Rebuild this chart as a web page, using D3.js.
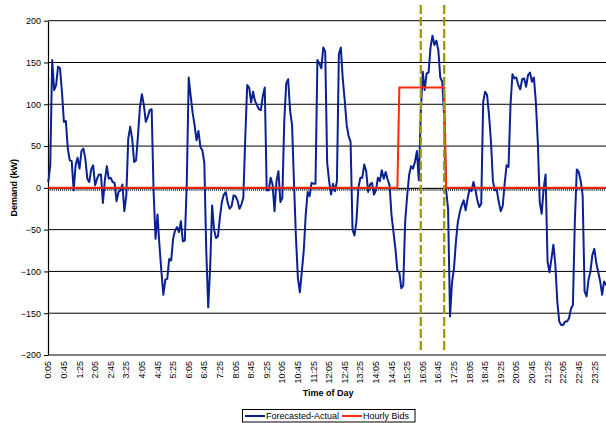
<!DOCTYPE html>
<html>
<head>
<meta charset="utf-8">
<script src="https://cdn.jsdelivr.net/npm/d3@7/dist/d3.min.js"></script>
<style>
  body { margin: 0; background: #fff; }
  svg { display: block; font-family: Arial, "Liberation Sans", sans-serif; }
</style>
</head>
<body>
<div id="chart"></div>
<script>
// 5-minute intervals, 0:05 .. 24:00
const times = d3.range(1, 289).map((k) => {
  const m = (k * 5) % 1440;
  return `${Math.floor(m / 60)}:${String(m % 60).padStart(2, "0")}`;
});

const xTickLabels = ["0:05","0:45","1:25","2:05","2:45","3:25","4:05","4:45","5:25","6:05","6:45","7:25",
  "8:05","8:45","9:25","10:05","10:45","11:25","12:05","12:45","13:25","14:05","14:45","15:25",
  "16:05","16:45","17:25","18:05","18:45","19:25","20:05","20:45","21:25","22:05","22:45","23:25"];

const yTicks = [-200, -150, -100, -50, 0, 50, 100, 150, 200];

// Forecasted - Actual demand (kW), one value per 5 minutes
const forecastedActual = [
  7, 27, 153, 117, 123, 145, 143, 115, 79, 80, 47, 33, 32, -3,
  27, 36, 23, 44, 47, 35, 11, 7, 22, 27, 3, 11, 16, 16,
  -18, 9, 26, 11, 12, 7, 6, -16, -5, -3, 4, -28, -9,
  59, 73, 59, 31, 33, 63, 97, 112, 99, 79, 85, 93, 94,
  -5, -61, -32, -69, -100, -128, -110, -109, -85, -87, -61, -51, -47, -53, -40, -64, -63,
  5, 132, 110, 90, 75, 57, 68, 49, 45, 30, -75, -143,
  -95, -21, -50, -60, -58, -35, -17, -8, -5, -18, -25, -22, -9, -10, -15, -25, -20, -12,
  60, 123, 120, 102, 115, 104, 99, 94, 93, 110, 120,
  -3, -3, 12, 4, -28, 8, 20, -17, -12, 80, 125, 130, 92, 75,
  5, -60, -108, -125, -100, -75, -32, -5, -10, 6, 5, 5, 153, 149, 143, 168,
  163, 30, 8, -8, 5, -4, 8, 160, 168, 130, 105, 75, 62, 55,
  -50, -57, -40, 0, 12, 12, 28, 20, -5, 4, 6, -8, -3, 12, 8, 21, 11, 19, 10, 3,
  -33, -53, -73, -99, -101, -120, -117, -40, -10, 15, 26, 23, 31, 44, 9,
  90, 139, 117, 137, 138, 168, 182, 171, 176, 165, 132, 127, 85, -3, -25,
  -154, -113, -97, -65, -41, -29, -21, -15, -27, -13, -1,
  -4, 7, -2, -15, -23, -19, 103, 115, 111, 87, 55, 8, -3, -3, -17, -28, -22, 5, 27, 25,
  99, 136, 131, 132, 123, 118, 130, 131, 121, 135, 138, 127, 132, 103, 55, -17, -31, -1, 16,
  -88, -101, -85, -68, -92, -136, -160, -164, -164, -160, -160, -156, -145, -140, -40,
  22, 19, 8, -9, -124, -130, -110, -100, -80, -73, -90, -101, -112, -128, -112, -116, -110
];

// Hourly bids (kW), hour 0..23
const hourlyBids = [0, 0, 0, 0, 0, 0, 0, 0, 0, 0, 0, 0, 0, 0, 0, 120, 120, 0, 0, 0, 0, 0, 0, 0];

// bid window boundaries
const markerTimes = ["16:00", "17:00"];

const width = 606, height = 423;
const plot = { left: 48.3, right: 608, top: 20.7, bottom: 355 };

const svg = d3.select("#chart")
  .append("svg")
  .attr("width", width)
  .attr("height", height);

const x = d3.scalePoint().domain(times).range([plot.left, plot.right]);
const y = d3.scaleLinear().domain([-200, 200]).range([plot.bottom, plot.top]);

const bids = times.map((t, i) => hourlyBids[Math.floor(i / 12)]);

// Gridlines
svg.append("g")
  .selectAll("line")
  .data(yTicks.filter((d) => d !== 0))
  .join("line")
  .attr("x1", plot.left)
  .attr("x2", width + 4)
  .attr("y1", (d) => y(d))
  .attr("y2", (d) => y(d))
  .attr("stroke", "#000")
  .attr("stroke-width", 1);

// Y axis
const yAxisG = svg.append("g")
  .attr("transform", "translate(48,0)")
  .call(d3.axisLeft(y).tickValues(yTicks).tickSize(4).tickPadding(3).tickSizeOuter(0));
yAxisG.attr("font-family", null).attr("font-size", null);
yAxisG.select(".domain").attr("stroke-width", 1.2);
yAxisG.selectAll(".tick text").style("font-size", "9px").attr("fill", "#000");

// X axis along zero, tick mark on every interval
const xAxisG = svg.append("g")
  .attr("transform", `translate(0,${y(0)})`)
  .call(d3.axisBottom(x).tickValues(times).tickSize(3).tickSizeOuter(0).tickFormat(""));
xAxisG.selectAll(".tick line").attr("stroke-width", 0.8);

// X tick labels, rotated, at the bottom
svg.append("g")
  .selectAll("text")
  .data(xTickLabels)
  .join("text")
  .attr("transform", (d) => `translate(${x(d)},361) rotate(-90)`)
  .attr("text-anchor", "end")
  .attr("dy", "0.35em")
  .style("font-size", "9px")
  .text((d) => d);

// Axis titles
svg.append("text")
  .attr("x", (plot.left + plot.right) / 2)
  .attr("y", 396)
  .attr("text-anchor", "middle")
  .style("font-size", "9px")
  .style("font-weight", "bold")
  .text("Time of Day");

svg.append("text")
  .attr("transform", `translate(17,${y(0)}) rotate(-90)`)
  .attr("text-anchor", "middle")
  .style("font-size", "9px")
  .style("font-weight", "bold")
  .text("Demand (kW)");

// Series
const line = d3.line()
  .x((d, i) => x(times[i]))
  .y((d) => y(d));

svg.append("path")
  .datum(forecastedActual)
  .attr("fill", "none")
  .attr("stroke", "#0a2191")
  .attr("stroke-width", 2)
  .attr("stroke-linejoin", "round")
  .attr("d", line);

svg.append("path")
  .datum(bids)
  .attr("fill", "none")
  .attr("stroke", "#ff2a0a")
  .attr("stroke-width", 2)
  .attr("d", line);

// Dashed markers for the bid hour
svg.append("g")
  .selectAll("line")
  .data(markerTimes)
  .join("line")
  .attr("x1", (d) => x(d))
  .attr("x2", (d) => x(d))
  .attr("y1", 5)
  .attr("y2", 352)
  .attr("stroke", "#9e9a00")
  .attr("stroke-width", 2.3)
  .attr("stroke-dasharray", "9,3");

// Legend
const legend = svg.append("g");
legend.append("rect")
  .attr("x", 242.5).attr("y", 409.5)
  .attr("width", 172.5).attr("height", 12.5)
  .attr("fill", "#fff").attr("stroke", "#000");
const legendItems = [
  { name: "Forecasted-Actual", color: "#0a2191", x: 245 },
  { name: "Hourly Bids", color: "#ff2a0a", x: 342 }
];
legendItems.forEach((d) => {
  legend.append("line")
    .attr("x1", d.x).attr("x2", d.x + 20)
    .attr("y1", 416).attr("y2", 416)
    .attr("stroke", d.color).attr("stroke-width", 2);
  legend.append("text")
    .attr("x", d.x + 21).attr("y", 419.3)
    .style("font-size", "9px")
    .text(d.name);
});
</script>
</body>
</html>
